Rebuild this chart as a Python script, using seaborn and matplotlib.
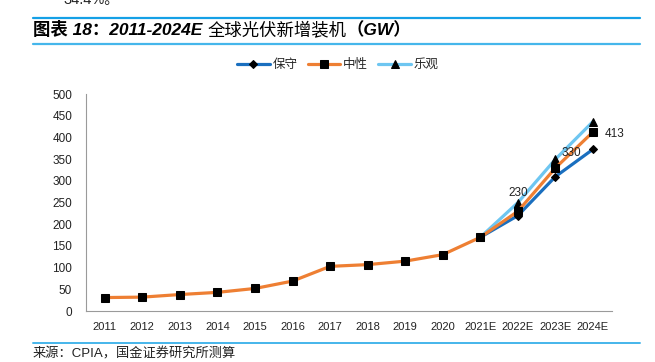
import numpy as np
import pandas as pd
import matplotlib
matplotlib.use("Agg")
import matplotlib.pyplot as plt
from matplotlib.lines import Line2D
import seaborn as sns

# Data (GW)
years = ['2011', '2012', '2013', '2014', '2015', '2016', '2017', '2018', '2019',
         '2020', '2021E', '2022E', '2023E', '2024E']
neutral = [31, 32, 38, 43, 52, 69, 103, 107, 115, 130, 170, 230, 330, 413]
forecast_years = ['2021E', '2022E', '2023E', '2024E']
conservative = [170, 220, 310, 373]
optimistic = [170, 250, 350, 437]
label_years = ['2022E', '2023E', '2024E']
label_values = [230, 330, 413]
yticks = [0, 50, 100, 150, 200, 250, 300, 350, 400, 450, 500]

sns.set_style("white")
plt.rcParams['font.family'] = ['Liberation Sans', 'Noto Sans CJK SC', 'DejaVu Sans']
plt.rcParams['axes.unicode_minus'] = False

W, H = 655, 362
fig = plt.figure(figsize=(W / 100, H / 100), dpi=100)
ax = fig.add_axes([86 / W, 1 - 311 / H, (611.7 - 86) / W, (311 - 94.3) / H])

pos = {y: i for i, y in enumerate(years)}

df_neu = pd.DataFrame({'x': [pos[y] for y in years], 'v': neutral})
df_con = pd.DataFrame({'x': [pos[y] for y in forecast_years], 'v': conservative})
df_opt = pd.DataFrame({'x': [pos[y] for y in forecast_years], 'v': optimistic})

c_con, c_neu, c_opt = '#1A6FBF', '#EE7F33', '#6EC6F1'

sns.lineplot(data=df_con, x='x', y='v', ax=ax, color=c_con, lw=2.3, marker='D', markersize=4,
             mfc='black', mec='black', label='保守')
sns.lineplot(data=df_opt, x='x', y='v', ax=ax, color=c_opt, lw=2.3, marker='^', markersize=5.5,
             mfc='black', mec='black', label='乐观')
sns.lineplot(data=df_neu, x='x', y='v', ax=ax, color=c_neu, lw=2.3, marker='s', markersize=5.3,
             mfc='black', mec='black', label='中性')

# data labels for neutral scenario
offsets = [(0, 18), (16, 15), (22, -2)]
for yr, val, off in zip(label_years, label_values, offsets):
    ax.annotate(str(val), (pos[yr], val), xytext=off, textcoords='offset pixels',
                ha='center', va='center', fontsize=8.5, color='#222222')

ax.set_xlim(-0.5, len(years) - 0.5)
ax.set_ylim(0, 500)
ax.set_yticks(yticks)
ax.set_xticks(np.arange(len(years) + 1) - 0.5)
ax.set_xticklabels([])
ax.set_xticks(np.arange(len(years)), minor=True)
ax.set_xticklabels(years, minor=True)
ax.set_xlabel('')
ax.set_ylabel('')

gray = '#9a9a9a'
for s in ['top', 'right']:
    ax.spines[s].set_visible(False)
for s in ['left', 'bottom']:
    ax.spines[s].set_color(gray)
    ax.spines[s].set_linewidth(0.8)
ax.tick_params(axis='y', which='major', direction='in', length=3, width=0.8, color=gray,
               pad=10, labelsize=8.5, labelcolor='#222222')
ax.tick_params(axis='x', which='major', direction='in', length=3, width=0.8, color=gray)
ax.tick_params(axis='x', which='minor', length=0, pad=8, labelsize=8, labelcolor='#222222')

# legend in order 保守, 中性, 乐观
handles, labels = ax.get_legend_handles_labels()
order = [labels.index(l) for l in ['保守', '中性', '乐观']]
ax.legend([handles[i] for i in order], [labels[i] for i in order],
          loc='center', bbox_to_anchor=(338 / W, 1 - 65 / H), bbox_transform=fig.transFigure,
          ncol=3, frameon=False, fontsize=9, handlelength=2.6, handletextpad=0.25,
          columnspacing=0.8, borderpad=0)

# header / footer
fig.text(63 / W, 1 - 4 / H, '34.4%。', fontsize=10.5, va='baseline', color='#222222')
fig.add_artist(Line2D([33 / W, 640 / W], [1 - 17.7 / H] * 2, color='#14A0E6', lw=1.6))
fig.add_artist(Line2D([33 / W, 640 / W], [1 - 44.3 / H] * 2, color='#45B6EB', lw=1.6))

# title in pieces: bold italic latin part, lighter CJK part
renderer = fig.canvas.get_renderer()
title_parts = [('图表 18：2011-2024E ', 'bold'), ('全球光伏新增装机', 'normal'), ('（GW）', 'bold')]
x_px = 33
for txt, wt in title_parts:
    t = fig.text(x_px / W, 1 - 35 / H, txt, fontsize=12.5, fontweight=wt, style='italic',
                 va='baseline', color='black')
    x_px = t.get_window_extent(renderer).x1

fig.add_artist(Line2D([33 / W, 640 / W], [1 - 343.3 / H] * 2, color='#45B6EB', lw=1.4))
fig.text(33 / W, 1 - 354 / H, '来源：CPIA，国金证券研究所测算', fontsize=9.5, va='center',
         color='#222222')

fig.savefig('out.png', dpi=100)
